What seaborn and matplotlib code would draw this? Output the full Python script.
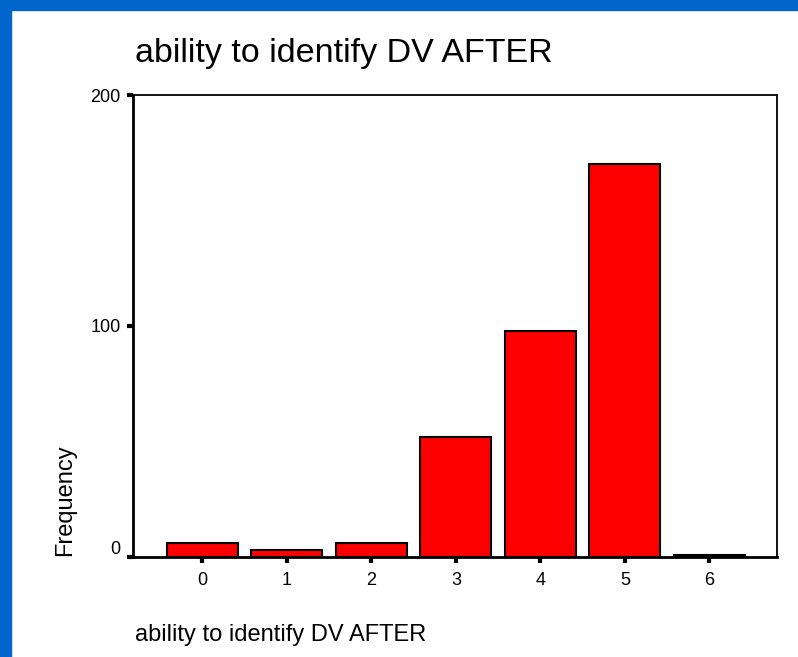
import matplotlib
matplotlib.use("Agg")
import matplotlib.pyplot as plt
import matplotlib.transforms as mtransforms
import seaborn as sns
import pandas as pd
from matplotlib.patches import Rectangle

# data
scores = ["0", "1", "2", "3", "4", "5", "6"]
counts = [6, 3, 6, 52, 98, 170, 1]
yticks = [0, 100, 200]

sns.set_style("white")
plt.rcParams["font.family"] = ["Liberation Sans", "DejaVu Sans"]
plt.rcParams["text.color"] = "black"

df = pd.DataFrame({"score": scores, "count": counts})

fig = plt.figure(figsize=(7.98, 6.57), dpi=100)
fig.patch.set_facecolor("white")
# blue slide border, left and top
fig.add_artist(Rectangle((0, 0), 11 / 798, 1, transform=fig.transFigure,
                         color="#0066CC", zorder=0))
fig.add_artist(Rectangle((0, 1 - 10 / 657), 1, 10 / 657, transform=fig.transFigure,
                         color="#0066CC", zorder=0))

ax = fig.add_axes([133 / 798, 1 - 557 / 657, (777 - 133) / 798, (557 - 95) / 657])
sns.barplot(data=df, x="score", y="count", order=scores, color="#FF0000",
            saturation=1, width=0.84, edgecolor="black", linewidth=1.5, ax=ax)

ax.set_xlim(-0.82, 6.8)
ax.set_ylim(0, 200)
ax.set_yticks(yticks)
ax.set_yticklabels([str(v) for v in yticks])
for s in ax.spines.values():
    s.set_visible(True)
    s.set_color("black")
    s.set_linewidth(1.3)
ax.spines["left"].set_linewidth(2)
ax.spines["bottom"].set_linewidth(2)
ax.tick_params(axis="both", direction="out", length=4, width=3, color="black",
               labelsize=13, labelcolor="black", left=True, bottom=True)
ax.tick_params(axis="x", pad=7)
ax.tick_params(axis="y", pad=5)
# SPSS puts the zero label a little above the axis
lab0 = ax.get_yticklabels()[0]
lab0.set_transform(lab0.get_transform() +
                   mtransforms.ScaledTranslation(0, 10 / 100, fig.dpi_scale_trans))
ax.set_xlabel("")
ax.set_ylabel("")

fig.text(135 / 798, 1 - 62 / 657, "ability to identify DV AFTER", fontsize=24.5,
         ha="left", va="baseline")
fig.text(65 / 798, 1 - 500 / 657, "Frequency", fontsize=17, rotation=90,
         ha="center", va="center")
fig.text(135 / 798, 1 - 641 / 657, "ability to identify DV AFTER", fontsize=17,
         ha="left", va="baseline")

fig.savefig("out.png", dpi=100)
